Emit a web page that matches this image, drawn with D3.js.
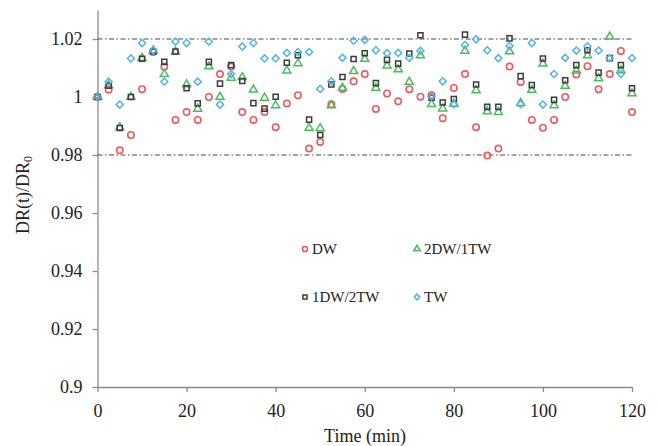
<!DOCTYPE html>
<html>
<head>
<meta charset="utf-8">
<script src="https://cdn.jsdelivr.net/npm/d3@7"></script>
<style>
  html, body { margin: 0; padding: 0; background: #fff; }
  svg { display: block; }
  text { font-family: "Liberation Serif", "Times New Roman", serif; fill: #222; }
</style>
</head>
<body>
<svg id="chart" width="659" height="446"></svg>
<script>
// Sampling times (min)
const times = [0, 2.5, 5, 7.5, 10, 12.5, 15, 17.5, 20, 22.5, 25, 27.5, 30, 32.5, 35, 37.5,
  40, 42.5, 45, 47.5, 50, 52.5, 55, 57.5, 60, 62.5, 65, 67.5, 70, 72.5, 75, 77.5,
  80, 82.5, 85, 87.5, 90, 92.5, 95, 97.5, 100, 102.5, 105, 107.5, 110, 112.5, 115, 117.5, 120];

// DR(t)/DR0 for each water mix
const dw = [1.0, 1.0025, 0.9816, 0.9869, 1.0027, 1.0155, 1.0105, 0.9921, 0.9948, 0.9921, 1.0, 1.0079,
  1.0105, 0.9948, 0.9921, 0.9948, 0.9896, 0.9978, 1.0006, 0.9822, 0.9845, 0.9975, 1.0028, 1.0054,
  1.0079, 0.9959, 1.0012, 0.9985, 1.0027, 1.0001, 1.0006, 0.9927, 1.0031, 1.0079, 0.9896, 0.9798,
  0.9822, 1.0105, 1.0052, 0.9921, 0.9894, 0.9921, 1.0, 1.0078, 1.0106, 1.0027, 1.0079, 1.0159, 0.9948];

const dw2tw1 = [1.0, 1.004, 0.9895, 1.0, 1.0134, 1.016, 1.0079, 1.0156, 1.0043, 0.9959, 1.0105, 1.0,
  1.0066, 1.0068, 1.0025, 0.9997, 0.9971, 1.0091, 1.0116, 0.9893, 0.9892, 0.9971, 1.0031, 1.0089,
  1.0131, 1.0031, 1.0108, 1.0095, 1.0052, 1.0143, 0.9975, 0.996, 0.9976, 1.0159, 1.0023, 0.995,
  0.9948, 1.0157, 0.9979, 1.0024, 1.0115, 0.9971, 1.0038, 1.0091, 1.0143, 1.0064, 1.0208, 1.0092, 1.0012];

const dw1tw2 = [1.0, 1.0039, 0.9893, 1.0, 1.0132, 1.0157, 1.0121, 1.0157, 1.003, 0.9978, 1.0121, 1.0046,
  1.011, 1.0055, 0.9979, 0.996, 1.0001, 1.0118, 1.0144, 0.9922, 0.9869, 1.0043, 1.0069, 1.0131,
  1.0151, 1.0048, 1.0128, 1.0115, 1.015, 1.0213, 0.9998, 0.9981, 0.9993, 1.0215, 1.0043, 0.9966,
  0.9966, 1.0202, 1.0072, 1.0041, 1.0133, 0.999, 1.0058, 1.011, 1.0161, 1.0084, 1.0134, 1.011, 1.003];

const tw = [1.0, 1.0053, 0.9974, 1.0133, 1.0186, 1.016, 1.0053, 1.0191, 1.0186, 1.0053, 1.0191, 0.9974,
  1.0079, 1.0174, 1.0186, 1.0133, 1.0133, 1.0152, 1.0155, 1.0155, 1.0028, 1.0054, 1.0135, 1.0194,
  1.0197, 1.0161, 1.0151, 1.0152, 1.0135, 1.0159, 1.0002, 1.0054, 0.9975, 1.0179, 1.0199, 1.0161,
  1.0134, 1.0176, 0.9975, 1.0186, 0.9974, 1.0079, 1.0135, 1.016, 1.0175, 1.016, 1.0134, 1.008, 1.0134];

const seriesNames = ["DW", "2DW/1TW", "1DW/2TW", "TW"];
const xTicks = [0, 20, 40, 60, 80, 100, 120];
const yTicks = [0.9, 0.92, 0.94, 0.96, 0.98, 1.0, 1.02];
const yTickLabels = ["0.9", "0.92", "0.94", "0.96", "0.98", "1", "1.02"];
const limitLines = [1.02, 0.98];

const svg = d3.select("#chart");
const x = d3.scaleLinear().domain([0, 120]).range([97.5, 632]);
const y = d3.scaleLinear().domain([0.9, 1.03]).range([387, 10]);

// Marker styles per series
const styles = [
  { data: dw,     shape: "circle",   color: "#f0595d" },
  { data: dw2tw1, shape: "triangle", color: "#4dbb5f" },
  { data: dw1tw2, shape: "square",   color: "#3c3c3c" },
  { data: tw,     shape: "diamond",  color: "#52b4ea" }
];

function markerPath(shape, scale) {
  const s = scale || 1;
  if (shape === "triangle") return d3.symbol(d3.symbolTriangle, 28 * s * s)();
  if (shape === "square") return d3.symbol(d3.symbolSquare, 26 * s * s)();
  if (shape === "diamond") return d3.symbol(d3.symbolSquare, 25 * s * s)();
  return null;
}

function drawMarker(g, shape, color, cx, cy, scale) {
  const s = scale || 1;
  if (shape === "circle") {
    g.append("circle").attr("cx", cx).attr("cy", cy).attr("r", 3.2 * s)
      .attr("fill", "none").attr("stroke", color).attr("stroke-width", 1.6);
  } else {
    const rot = shape === "diamond" ? " rotate(45)" : "";
    g.append("path").attr("d", markerPath(shape, s))
      .attr("transform", `translate(${cx},${cy})${rot}`)
      .attr("fill", "none").attr("stroke", color).attr("stroke-width", 1.5);
  }
}

// Axes
const yAxis = d3.axisLeft(y).tickValues(yTicks)
  .tickFormat((d, i) => yTickLabels[i]).tickSize(5).tickSizeOuter(0).tickPadding(10);
const gy = svg.append("g").attr("transform", "translate(97.5,0)").call(yAxis);

const xAxis = d3.axisBottom(x).tickValues(xTicks).tickSize(5).tickSizeOuter(0).tickPadding(12);
const gx = svg.append("g").attr("transform", "translate(0,387)").call(xAxis);

[gx, gy].forEach(g => {
  g.selectAll("path.domain").attr("stroke", "#8a8a8a").attr("stroke-width", 1.3);
  g.selectAll(".tick line").attr("stroke", "#8a8a8a").attr("stroke-width", 1.3);
  g.selectAll(".tick text").attr("font-family", "Liberation Serif, serif")
    .attr("font-size", 18).attr("fill", "#222");
});

// Limit lines (dash-dot)
svg.append("g").selectAll("line").data(limitLines).join("line")
  .attr("x1", x(0)).attr("x2", x(120))
  .attr("y1", d => y(d)).attr("y2", d => y(d))
  .attr("stroke", "#4a4a4a").attr("stroke-width", 1.2)
  .attr("stroke-dasharray", "5,2.5,1.5,2.5");

// Data markers
styles.forEach(st => {
  const g = svg.append("g");
  st.data.forEach((v, i) => drawMarker(g, st.shape, st.color, x(times[i]), y(v)));
});

// Axis titles
svg.append("text").attr("x", 365).attr("y", 442).attr("text-anchor", "middle")
  .attr("font-size", 18).text("Time (min)");

const yt = svg.append("text").attr("transform", "translate(29,195) rotate(-90)")
  .attr("text-anchor", "middle").attr("font-size", 18);
yt.append("tspan").text("DR(t)/DR");
yt.append("tspan").attr("font-size", 12).attr("dy", 3).text("0");

// Legend
const legendPos = [[305, 249], [417, 249], [305, 297], [417, 297]];
const lg = svg.append("g");
styles.forEach((st, i) => {
  const [lx, ly] = legendPos[i];
  drawMarker(lg, st.shape, st.color, lx, ly, 0.8);
  lg.append("text").attr("x", lx + 7).attr("y", ly + 5)
    .attr("font-size", 15).text(seriesNames[i]);
});
</script>
</body>
</html>
